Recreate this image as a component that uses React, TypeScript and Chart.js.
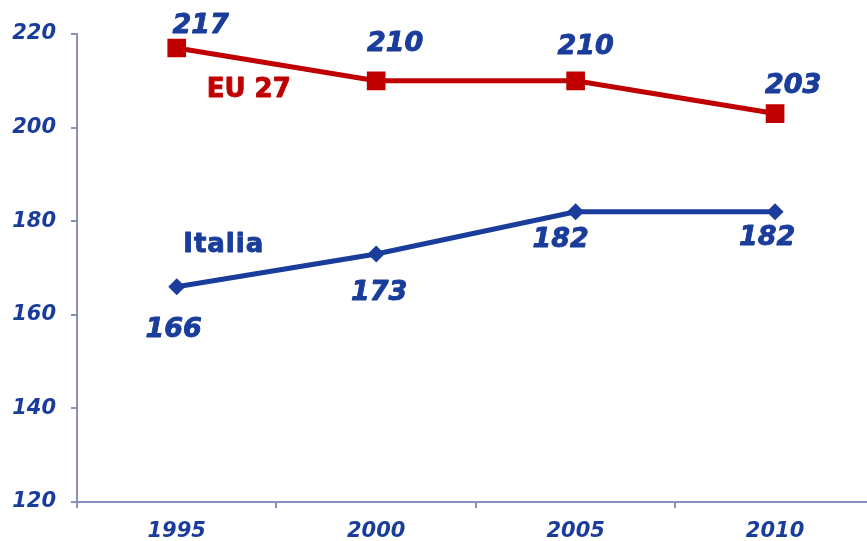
import React, { useEffect, useRef } from "react";
import { Chart, registerables } from "chart.js";

Chart.register(...registerables);

const categories = ["1995", "2000", "2005", "2010"];
const euValues = [217, 210, 210, 203];
const italiaValues = [166, 173, 182, 182];
const yTicks = [120, 140, 160, 180, 200, 220];

const BLUE = "#1A3D9B";
const RED = "#C00000";
const AXIS = "#8A8FBF";
const FONT = "'DejaVu Sans', Verdana, sans-serif";

// label offsets (layout only) relative to each point, in px
const euLabelOffsets = [[24, -22], [19, -37], [10, -34], [18, -28]];
const itLabelOffsets = [[-3, 43], [3, 39], [-15, 28], [-8, 26]];

const labelPlugin = {
  id: "customLabels",
  afterDatasetsDraw(chart: any) {
    const ctx = chart.ctx;
    ctx.save();
    ctx.textAlign = "center";
    ctx.textBaseline = "middle";
    ctx.lineJoin = "round";
    ctx.fillStyle = BLUE;
    ctx.strokeStyle = BLUE;
    ctx.lineWidth = 0.9;
    ctx.font = `italic bold 27px ${FONT}`;
    const offs = [euLabelOffsets, itLabelOffsets];
    chart.data.datasets.forEach((ds: any, di: number) => {
      const meta = chart.getDatasetMeta(di);
      meta.data.forEach((pt: any, i: number) => {
        const [dx, dy] = offs[di][i];
        const t = String(ds.data[i]);
        ctx.fillText(t, pt.x + dx, pt.y + dy);
        ctx.strokeText(t, pt.x + dx, pt.y + dy);
      });
    });
    // series names
    ctx.font = `bold 26px ${FONT}`;
    ctx.fillStyle = RED;
    ctx.strokeStyle = RED;
    const p0 = chart.getDatasetMeta(0).data[0];
    ctx.fillText(chart.data.datasets[0].label, p0.x + 72, p0.y + 42);
    ctx.strokeText(chart.data.datasets[0].label, p0.x + 72, p0.y + 42);
    ctx.fillStyle = BLUE;
    ctx.strokeStyle = BLUE;
    const p1 = chart.getDatasetMeta(1).data[0];
    (ctx as any).letterSpacing = "1px";
    ctx.fillText(chart.data.datasets[1].label, p1.x + 47, p1.y - 41);
    ctx.strokeText(chart.data.datasets[1].label, p1.x + 47, p1.y - 41);
    ctx.restore();
  },
};

export default function App() {
  const ref = useRef<HTMLCanvasElement>(null);
  useEffect(() => {
    document.body.style.overflow = "hidden";
    const chart = new Chart(ref.current!, {
      type: "line",
      data: {
        labels: categories,
        datasets: [
          {
            label: "EU 27",
            data: euValues,
            borderColor: RED,
            backgroundColor: RED,
            borderWidth: 5,
            pointStyle: "rect",
            pointRadius: 13.2,
            pointBorderWidth: 0,
            pointHoverRadius: 13.2,
            tension: 0,
          },
          {
            label: "Italia",
            data: italiaValues,
            borderColor: BLUE,
            backgroundColor: BLUE,
            borderWidth: 5,
            pointStyle: "rectRot",
            pointRadius: 8.5,
            pointBorderWidth: 0,
            pointHoverRadius: 8.5,
            tension: 0,
          },
        ],
      },
      options: {
        responsive: false,
        animation: false,
        devicePixelRatio: 1,
        layout: { padding: { top: 34, right: 7, left: 0, bottom: 0 } },
        plugins: {
          legend: { display: false },
          tooltip: { enabled: false },
        },
        scales: {
          x: {
            type: "category",
            offset: true,
            grid: {
              offset: true,
              drawOnChartArea: false,
              drawTicks: true,
              tickLength: 6,
              color: AXIS,
              lineWidth: 2,
            },
            border: { color: AXIS, width: 2 },
            ticks: {
              color: BLUE,
              padding: 11,
              font: { family: FONT, size: 21, style: "italic", weight: "bold" },
              maxRotation: 0,
            },
            afterFit: (s: any) => {
              s.height = 39;
            },
          },
          y: {
            min: 120,
            max: 220,
            afterBuildTicks: (s: any) => {
              s.ticks = yTicks.map((v) => ({ value: v }));
            },
            grid: {
              drawOnChartArea: false,
              drawTicks: true,
              tickLength: 6,
              color: AXIS,
              lineWidth: 2,
            },
            border: { color: AXIS, width: 2 },
            ticks: {
              color: BLUE,
              padding: 15,
              font: { family: FONT, size: 21, style: "italic", weight: "bold" },
            },
            afterFit: (s: any) => {
              s.width = 77;
            },
          },
        },
      },
      plugins: [labelPlugin],
    });
    return () => chart.destroy();
  }, []);
  return (
    <div style={{ position: "fixed", left: 0, top: 0, width: 888, height: 541, background: "#fff" }}>
      <canvas ref={ref} width={888} height={541} />
    </div>
  );
}
